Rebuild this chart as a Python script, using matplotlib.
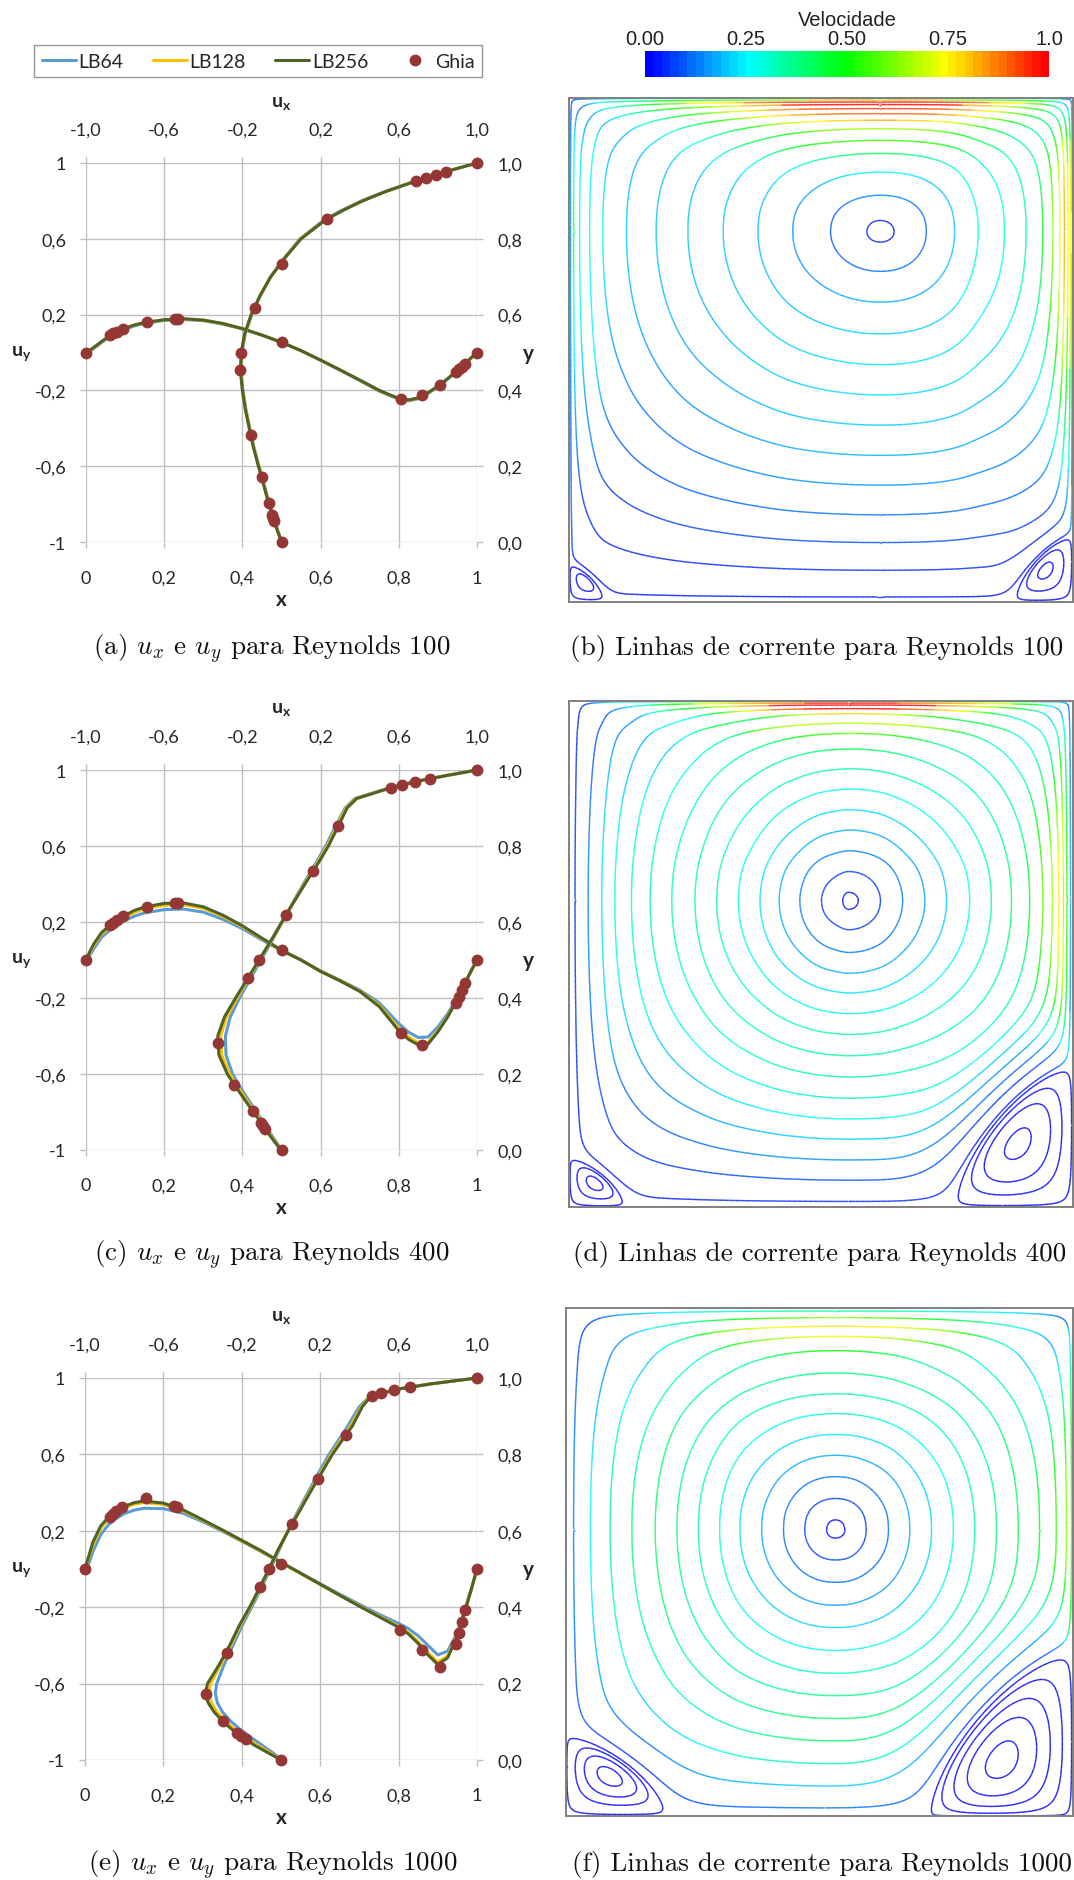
import numpy as np
import matplotlib
matplotlib.use("Agg")
import matplotlib.pyplot as plt
from matplotlib.collections import LineCollection
from matplotlib.colors import LinearSegmentedColormap, Normalize
from matplotlib.cm import ScalarMappable

W, H, DPI = 1074, 1881, 100

plt.rcParams['font.family'] = ['Lato', 'DejaVu Sans']
plt.rcParams['mathtext.fontset'] = 'custom'
plt.rcParams['mathtext.bf'] = 'Lato:bold'
plt.rcParams['mathtext.rm'] = 'Lato'
plt.rcParams['mathtext.it'] = 'Lato:italic'

# ---------------- velocity profiles (left column) ----------------
X_GRID = [0, 0.01, 0.02, 0.04, 0.06, 0.08, 0.10, 0.125, 0.15, 0.20, 0.25, 0.30, 0.35, 0.40, 0.45,
          0.50, 0.55, 0.60, 0.65, 0.70, 0.75, 0.80, 0.825, 0.85, 0.875, 0.90, 0.925, 0.95, 0.97, 0.985, 1.0]
Y_GRID = [0, 0.01, 0.02, 0.04, 0.06, 0.08, 0.10, 0.125, 0.15, 0.175, 0.20, 0.25, 0.30, 0.35, 0.40,
          0.45, 0.50, 0.55, 0.60, 0.65, 0.70, 0.75, 0.80, 0.85, 0.875, 0.90, 0.925, 0.95, 0.97, 0.985, 1.0]

# u_y(x) on the horizontal centre line
UY100_LB64 = [0, 0.008, 0.021, 0.053, 0.083, 0.105, 0.123, 0.141, 0.154, 0.169, 0.174, 0.168, 0.150, 0.124, 0.091,
              0.053, 0.009, -0.041, -0.094, -0.148, -0.204, -0.247, -0.255, -0.244, -0.216, -0.181, -0.140, -0.095, -0.058, -0.030, 0]
UY100_LB128 = [0, 0.011, 0.025, 0.057, 0.087, 0.109, 0.127, 0.145, 0.157, 0.172, 0.177, 0.170, 0.152, 0.125, 0.092,
               0.054, 0.009, -0.041, -0.093, -0.146, -0.201, -0.244, -0.252, -0.241, -0.213, -0.179, -0.138, -0.094, -0.057, -0.029, 0]
UY100_LB256 = [0, 0.012, 0.027, 0.058, 0.088, 0.110, 0.128, 0.146, 0.158, 0.173, 0.178, 0.171, 0.153, 0.126, 0.092,
               0.054, 0.010, -0.040, -0.092, -0.145, -0.200, -0.243, -0.250, -0.240, -0.212, -0.178, -0.138, -0.094, -0.057, -0.028, 0]

UY400_LB64 = [0, 0.025, 0.060, 0.120, 0.155, 0.185, 0.208, 0.232, 0.248, 0.265, 0.268, 0.252, 0.214, 0.165, 0.106,
              0.048, 0.000, -0.058, -0.106, -0.158, -0.225, -0.335, -0.380, -0.408, -0.405, -0.352, -0.283, -0.195, -0.115, -0.055, 0]
UY400_LB128 = [0, 0.038, 0.077, 0.137, 0.172, 0.202, 0.227, 0.252, 0.270, 0.288, 0.291, 0.272, 0.230, 0.176, 0.113,
               0.051, 0.000, -0.060, -0.109, -0.163, -0.238, -0.360, -0.405, -0.436, -0.433, -0.372, -0.296, -0.203, -0.119, -0.057, 0]
UY400_LB256 = [0, 0.045, 0.085, 0.145, 0.180, 0.211, 0.236, 0.262, 0.279, 0.298, 0.300, 0.280, 0.236, 0.180, 0.115,
               0.052, 0.000, -0.060, -0.110, -0.165, -0.245, -0.372, -0.418, -0.447, -0.442, -0.378, -0.300, -0.205, -0.120, -0.058, 0]

UY1000_LB64 = [0, 0.030, 0.090, 0.180, 0.232, 0.265, 0.290, 0.308, 0.318, 0.316, 0.292, 0.248, 0.198, 0.145, 0.090,
               0.033, -0.022, -0.077, -0.132, -0.185, -0.237, -0.285, -0.312, -0.350, -0.400, -0.450, -0.430, -0.332, -0.206, -0.105, 0]
UY1000_LB128 = [0, 0.060, 0.125, 0.213, 0.262, 0.295, 0.320, 0.339, 0.348, 0.338, 0.305, 0.255, 0.202, 0.147, 0.092,
                0.033, -0.024, -0.081, -0.138, -0.193, -0.247, -0.300, -0.333, -0.380, -0.437, -0.488, -0.455, -0.345, -0.212, -0.108, 0]
UY1000_LB256 = [0, 0.070, 0.140, 0.225, 0.272, 0.303, 0.328, 0.347, 0.356, 0.345, 0.310, 0.258, 0.205, 0.150, 0.095,
                0.035, -0.022, -0.080, -0.138, -0.195, -0.250, -0.305, -0.340, -0.390, -0.450, -0.500, -0.465, -0.350, -0.215, -0.110, 0]

# u_x(y) on the vertical centre line
UX100_LB64 = [0, -0.006, -0.012, -0.025, -0.037, -0.049, -0.061, -0.075, -0.088, -0.101, -0.115, -0.141, -0.162, -0.182, -0.197,
              -0.207, -0.203, -0.185, -0.152, -0.108, -0.055, 0.015, 0.095, 0.218, 0.307, 0.408, 0.530, 0.670, 0.792, 0.894, 1.0]
UX100_LB128 = [0, -0.007, -0.014, -0.027, -0.039, -0.051, -0.063, -0.077, -0.090, -0.103, -0.117, -0.143, -0.164, -0.184, -0.199,
               -0.209, -0.205, -0.187, -0.154, -0.109, -0.055, 0.017, 0.098, 0.222, 0.312, 0.412, 0.533, 0.673, 0.794, 0.895, 1.0]
UX100_LB256 = [0, -0.007, -0.014, -0.028, -0.040, -0.052, -0.064, -0.078, -0.091, -0.104, -0.118, -0.144, -0.165, -0.185, -0.200,
               -0.210, -0.206, -0.188, -0.155, -0.110, -0.055, 0.018, 0.100, 0.225, 0.315, 0.415, 0.535, 0.675, 0.795, 0.895, 1.0]

UX400_LB64 = [0, -0.012, -0.025, -0.052, -0.077, -0.102, -0.128, -0.160, -0.192, -0.222, -0.250, -0.284, -0.287, -0.262, -0.215,
              -0.160, -0.105, -0.050, 0.004, 0.057, 0.112, 0.170, 0.226, 0.275, 0.300, 0.325, 0.375, 0.532, 0.685, 0.838, 1.0]
UX400_LB128 = [0, -0.016, -0.030, -0.058, -0.084, -0.110, -0.137, -0.170, -0.203, -0.235, -0.265, -0.306, -0.311, -0.281, -0.227,
               -0.170, -0.112, -0.053, 0.003, 0.059, 0.117, 0.177, 0.234, 0.282, 0.306, 0.330, 0.380, 0.537, 0.688, 0.839, 1.0]
UX400_LB256 = [0, -0.018, -0.033, -0.062, -0.089, -0.116, -0.144, -0.178, -0.212, -0.246, -0.277, -0.320, -0.326, -0.292, -0.235,
               -0.175, -0.115, -0.055, 0.002, 0.060, 0.120, 0.182, 0.240, 0.288, 0.312, 0.335, 0.385, 0.540, 0.690, 0.840, 1.0]

UX1000_LB64 = [0, -0.020, -0.045, -0.100, -0.155, -0.208, -0.253, -0.298, -0.325, -0.335, -0.328, -0.290, -0.245, -0.200, -0.150,
               -0.100, -0.055, -0.010, 0.035, 0.085, 0.137, 0.190, 0.245, 0.310, 0.342, 0.370, 0.400, 0.450, 0.580, 0.770, 1.0]
UX1000_LB128 = [0, -0.030, -0.060, -0.125, -0.180, -0.235, -0.280, -0.325, -0.357, -0.368, -0.360, -0.307, -0.256, -0.210, -0.157,
                -0.107, -0.060, -0.014, 0.036, 0.090, 0.144, 0.200, 0.256, 0.322, 0.356, 0.383, 0.410, 0.452, 0.583, 0.770, 1.0]
UX1000_LB256 = [0, -0.035, -0.070, -0.140, -0.195, -0.250, -0.295, -0.340, -0.372, -0.385, -0.375, -0.315, -0.262, -0.215, -0.160,
                -0.110, -0.062, -0.015, 0.037, 0.093, 0.148, 0.205, 0.262, 0.330, 0.365, 0.390, 0.415, 0.455, 0.585, 0.770, 1.0]

# Ghia et al. reference points
GHIA_Y = [1.0, 0.9766, 0.9688, 0.9609, 0.9531, 0.8516, 0.7344, 0.6172, 0.5, 0.4531, 0.2813, 0.1719, 0.1016, 0.0703, 0.0625, 0.0547, 0.0]
GHIA_U100 = [1.0, 0.84123, 0.78871, 0.73722, 0.68717, 0.23151, 0.00332, -0.13641, -0.20581, -0.21090, -0.15662, -0.10150, -0.06434, -0.04775, -0.04192, -0.03717, 0.0]
GHIA_U400 = [1.0, 0.75837, 0.68439, 0.61756, 0.55892, 0.29093, 0.16256, 0.02135, -0.11477, -0.17119, -0.32726, -0.24299, -0.14612, -0.10338, -0.09266, -0.08186, 0.0]
GHIA_U1000 = [1.0, 0.65928, 0.57492, 0.51117, 0.46604, 0.33304, 0.18719, 0.05702, -0.06080, -0.10648, -0.27805, -0.38289, -0.29730, -0.22220, -0.20196, -0.18109, 0.0]
GHIA_X = [1.0, 0.9688, 0.9609, 0.9531, 0.9453, 0.9063, 0.8594, 0.8047, 0.5, 0.2344, 0.2266, 0.1563, 0.0938, 0.0781, 0.0703, 0.0625, 0.0]
GHIA_V100 = [0.0, -0.05906, -0.07391, -0.08864, -0.10313, -0.16914, -0.22445, -0.24533, 0.05454, 0.17527, 0.17507, 0.16077, 0.12317, 0.10890, 0.10091, 0.09233, 0.0]
GHIA_V400 = [0.0, -0.12146, -0.15663, -0.19254, -0.22847, np.nan, -0.44993, -0.38598, 0.05186, 0.30174, 0.30203, 0.28124, 0.22965, 0.20920, 0.19713, 0.18360, 0.0]
GHIA_V1000 = [0.0, -0.21388, -0.27669, -0.33714, -0.39188, -0.51550, -0.42665, -0.31966, 0.02526, 0.32235, 0.33075, 0.37095, 0.32627, 0.30353, 0.29012, 0.27485, 0.0]

SERIES = ['LB64', 'LB128', 'LB256', 'Ghia']
X_TICKS = [0, 0.2, 0.4, 0.6, 0.8, 1.0]
X_LABELS = ['0', '0,2', '0,4', '0,6', '0,8', '1']
UY_TICKS = [-1, -0.6, -0.2, 0.2, 0.6, 1]
UY_LABELS = ['-1', '-0,6', '-0,2', '0,2', '0,6', '1']
UX_TICKS = [-1, -0.6, -0.2, 0.2, 0.6, 1]
UX_LABELS = ['-1,0', '-0,6', '-0,2', '0,2', '0,6', '1,0']
Y_TICKS = [0, 0.2, 0.4, 0.6, 0.8, 1.0]
Y_LABELS = ['0,0', '0,2', '0,4', '0,6', '0,8', '1,0']

# ---------------- streamline panels (right column) ----------------
# vortex centre and positions where the drawn streamlines cross the centre lines
# (listed from the centre outwards)
CENTER_100 = (0.6172, 0.7344)
BELOW_100 = [0.714, 0.656, 0.595, 0.532, 0.471, 0.411, 0.351, 0.291, 0.232, 0.173, 0.118, 0.063, 0.010]
ABOVE_100 = [0.757, 0.807, 0.853, 0.890, 0.916, 0.939, 0.956, 0.969, 0.979, 0.987, 0.992, 0.996, 0.999]
LEFT_100 = [0.591, 0.519, 0.444, 0.375, 0.306, 0.236, 0.173, 0.114, 0.067, 0.041, 0.021, 0.009, 0.003]
RIGHT_100 = [0.645, 0.709, 0.765, 0.812, 0.864, 0.907, 0.940, 0.960, 0.974, 0.983, 0.990, 0.995, 0.998]
# corner eddies: corner, extent along bottom, extent along wall, eddy centre, line fractions
EDDIES_100 = [('BL', 0.071, 0.073, (0.0313, 0.0391), [0.05, 0.6]),
              ('BR', 0.116, 0.129, (0.9453, 0.0625), [0.03, 0.4, 0.88])]

CENTER_400 = (0.5547, 0.6055)
BELOW_400 = [0.588, 0.548, 0.503, 0.462, 0.423, 0.382, 0.341, 0.299, 0.257, 0.215, 0.174, 0.134, 0.093, 0.053, 0.011]
ABOVE_400 = [0.622, 0.663, 0.704, 0.745, 0.785, 0.826, 0.866, 0.905, 0.936, 0.956, 0.975, 0.985, 0.992, 0.996, 0.999]
LEFT_400 = [0.543, 0.501, 0.458, 0.417, 0.379, 0.336, 0.293, 0.250, 0.204, 0.161, 0.124, 0.091, 0.065, 0.038, 0.012]
RIGHT_400 = [0.574, 0.618, 0.662, 0.706, 0.749, 0.795, 0.838, 0.878, 0.914, 0.940, 0.959, 0.972, 0.981, 0.988, 0.995]
EDDIES_400 = [('BL', 0.111, 0.096, (0.0508, 0.0469), [0.03, 0.4, 0.85]),
              ('BR', 0.235, 0.276, (0.8906, 0.1250), [0.02, 0.25, 0.55, 0.92])]

CENTER_1000 = (0.5313, 0.5625)
BELOW_1000 = [0.547, 0.504, 0.460, 0.415, 0.371, 0.326, 0.281, 0.237, 0.192, 0.148, 0.103, 0.059, 0.016]
ABOVE_1000 = [0.583, 0.625, 0.668, 0.710, 0.751, 0.792, 0.831, 0.872, 0.916, 0.944, 0.964, 0.981, 0.994]
LEFT_1000 = [0.514, 0.471, 0.429, 0.386, 0.343, 0.303, 0.261, 0.219, 0.176, 0.130, 0.087, 0.048, 0.015]
RIGHT_1000 = [0.550, 0.592, 0.636, 0.678, 0.721, 0.764, 0.806, 0.849, 0.892, 0.934, 0.967, 0.987, 0.997]
EDDIES_1000 = [('BL', 0.199, 0.157, (0.0859, 0.0781), [0.02, 0.3, 0.6, 0.9]),
               ('BR', 0.284, 0.32, (0.8594, 0.1094), [0.02, 0.2, 0.45, 0.7, 0.93])]

CBAR_TICKS = [0, 0.25, 0.5, 0.75, 1.0]
CBAR_LABELS = ['0.00', '0.25', '0.50', '0.75', '1.0']

COLORS = ['#5B9BD5', '#FFC000', '#4F6228']
GHIA_COLOR = '#953735'
GRID_COLOR = '#bfbfbf'
TEXT_COLOR = '#262626'
RAINBOW = LinearSegmentedColormap.from_list('rainbow', ['#0000ff', '#00ffff', '#00ff00', '#ffff00', '#ff0000'])
EDDY_W = 0.8
EDDY_Q = 1.5
SPEED_GAIN = 1.1


def rect(l, t, r, b):
    return [l / W, 1 - b / H, (r - l) / W, (b - t) / H]


def fx(px):
    return px / W


def fy(py):
    return 1 - py / H


fig = plt.figure(figsize=(W / DPI, H / DPI), dpi=DPI)


def velocity_panel(box, uy_curves, ux_curves, ghia_v, ghia_u):
    l, t, r, b = box
    ax = fig.add_axes(rect(*box))
    ax.set_xlim(0, 1)
    ax.set_ylim(-1, 1)
    ax2 = fig.add_axes(rect(*box), frameon=False)
    ax2.set_xlim(-1, 1)
    ax2.set_ylim(0, 1)
    for a in (ax, ax2):
        for sp in a.spines.values():
            sp.set_visible(False)
    ax.set_xticks(X_TICKS, X_LABELS)
    ax.set_yticks(UY_TICKS, UY_LABELS)
    ax.grid(True, color=GRID_COLOR, lw=1.0)
    ax.set_axisbelow(True)
    ax2.xaxis.tick_top()
    ax2.yaxis.tick_right()
    ax2.set_xticks(UX_TICKS, UX_LABELS)
    ax2.set_yticks(Y_TICKS, Y_LABELS)
    for a in (ax, ax2):
        a.tick_params(direction='out', length=4.3, width=1, color=GRID_COLOR,
                      labelsize=13, labelcolor=TEXT_COLOR)
    ax.tick_params(axis='x', pad=15.5)
    ax.tick_params(axis='y', pad=10)
    ax2.tick_params(axis='x', pad=14)
    ax2.tick_params(axis='y', pad=10.5)

    handles = []
    for vals, c in zip(uy_curves, COLORS):
        ax2.plot(X_GRID, vals, color=c, lw=2.2, transform=ax.transData, clip_on=False,
                 solid_capstyle='round')
    for vals, c in zip(ux_curves, COLORS):
        h, = ax2.plot(vals, Y_GRID, color=c, lw=2.2, clip_on=False, solid_capstyle='round')
        handles.append(h)
    ax2.plot(GHIA_X, ghia_v, 'o', color=GHIA_COLOR, ms=7.5, transform=ax.transData, clip_on=False)
    g, = ax2.plot(ghia_u, GHIA_Y, 'o', color=GHIA_COLOR, ms=7.5, clip_on=False)
    handles.append(g)

    fig.text(fx((l + r) / 2), fy(t - 61), r'$\mathbf{u_x}$', ha='center', va='center',
             fontsize=14, color=TEXT_COLOR, math_fontfamily='custom')
    fig.text(fx((l + r) / 2), fy(b + 57), 'x', ha='center', va='center',
             fontsize=15, fontweight='bold', color=TEXT_COLOR)
    fig.text(fx(21), fy((t + b) / 2), r'$\mathbf{u_y}$', ha='center', va='center',
             fontsize=14, color=TEXT_COLOR, math_fontfamily='custom')
    fig.text(fx(r + 51), fy((t + b) / 2), 'y', ha='center', va='center',
             fontsize=15, fontweight='bold', color=TEXT_COLOR)
    return handles


def pchip(xk, yk, x):
    xk = np.asarray(xk, float)
    yk = np.asarray(yk, float)
    h = np.diff(xk)
    d = np.diff(yk) / h
    m = np.empty_like(yk)
    m[0], m[-1] = d[0], d[-1]
    for i in range(1, len(xk) - 1):
        if d[i - 1] * d[i] <= 0:
            m[i] = 0.0
        else:
            w1 = 2 * h[i] + h[i - 1]
            w2 = h[i] + 2 * h[i - 1]
            m[i] = (w1 + w2) / (w1 / d[i - 1] + w2 / d[i])
    i = np.clip(np.searchsorted(xk, x) - 1, 0, len(h) - 1)
    t = (x - xk[i]) / h[i]
    return ((2 * t**3 - 3 * t**2 + 1) * yk[i] + (t**3 - 2 * t**2 + t) * h[i] * m[i]
            + (-2 * t**3 + 3 * t**2) * yk[i + 1] + (t**3 - t**2) * h[i] * m[i + 1])


def profile(center, lo, hi, s, grid):
    # s: 0 at the vortex centre, 1 on the walls, line k sits at s[k]; returns 1 - s^2
    lo_x = np.r_[0.0, np.asarray(lo)[::-1], center]
    lo_s = np.r_[1.0, s[::-1], 0.0]
    hi_x = np.r_[center, hi, 1.0]
    hi_s = np.r_[0.0, s, 1.0]
    sg = np.where(grid <= center, pchip(lo_x, lo_s, grid), pchip(hi_x, hi_s, grid))
    return 1 - np.clip(sg, 0, 1) ** 2


def stream_panel(box, center, below, above, left, right, eddies, ux_profile):
    ax = fig.add_axes(rect(*box))
    ax.set_xlim(0, 1)
    ax.set_ylim(0, 1)
    ax.set_xticks([])
    ax.set_yticks([])
    for sp in ax.spines.values():
        sp.set_color('#808080')
        sp.set_linewidth(1.4)

    # geometry: line k sits at its read positions, s grows linearly with the seed distance
    below = np.asarray(below)
    s = (center[1] - below) / center[1]
    vals = 1 - s**2

    # physical stream function of each line, integrated from the LB256 u_x profile
    yf = np.linspace(0, 1, 2001)
    uf = np.interp(yf, Y_GRID, ux_profile)
    cum = np.r_[0.0, np.cumsum(0.5 * (uf[1:] + uf[:-1]) * np.diff(yf))]
    p_line = np.r_[cum.min(), np.interp(below, yf, cum), 0.0]
    v_line = np.r_[1.0, vals, 0.0]
    scale = np.abs(p_line[:-2] - p_line[2:]) / np.abs(v_line[:-2] - v_line[2:])

    n = 601
    g = np.linspace(0, 1, n)
    xi = profile(center[0], left, right, s, g)
    eta = profile(center[1], below, above, s, g)
    psi_main = -np.outer(eta, xi)
    gy, gx = np.gradient(psi_main, g, g)
    gmag = SPEED_GAIN * np.hypot(gx, gy)

    xg, yg = np.meshgrid(g, g)
    psi = psi_main.copy()
    eddy_fields = []
    for corner, lx, ly, (ex, ey), fr in eddies:
        dx = xg if corner == 'BL' else 1 - xg
        X = dx / lx
        Y = yg / ly
        R = (X**EDDY_Q + Y**EDDY_Q) ** (1 / EDDY_Q)
        t = np.clip((R - 1) / EDDY_W, 0, 1)
        psi = psi * (1 - (1 - t) ** 3)
        x0 = (ex if corner == 'BL' else 1 - ex) / lx
        y0 = ey / ly
        s0 = x0**EDDY_Q + y0**EDDY_Q
        tot = EDDY_Q * s0 / (1 - s0)
        al, be = tot * x0**EDDY_Q / s0, tot * y0**EDDY_Q / s0
        phi = np.where(R < 1, X**al * Y**be * (1 - R**EDDY_Q), 0.0)
        eddy_fields.append((np.ma.masked_where(R > 1.02, phi), fr))

    segs, speeds = [], []

    def collect(cs, factors):
        for lev_segs, f in zip(cs.allsegs, factors):
            for sg in lev_segs:
                if len(sg) < 2:
                    continue
                mid = 0.5 * (sg[1:] + sg[:-1])
                ix = np.clip(np.rint(mid[:, 0] * (n - 1)).astype(int), 0, n - 1)
                iy = np.clip(np.rint(mid[:, 1] * (n - 1)).astype(int), 0, n - 1)
                segs.extend(np.stack([sg[:-1], sg[1:]], axis=1))
                speeds.extend(f * gmag[iy, ix])
        cs.remove()

    collect(ax.contour(g, g, psi, levels=-vals), scale)
    for phi, fr in eddy_fields:
        collect(ax.contour(g, g, phi, levels=np.asarray(fr) * phi.max()), [0.0] * len(fr))

    lc = LineCollection(segs, cmap=RAINBOW, norm=Normalize(0, 1), linewidths=1.0)
    lc.set_array(np.clip(np.asarray(speeds), 0, 1))
    ax.add_collection(lc)


def caption(cx, cy, text):
    fig.text(fx(cx), fy(cy), text, ha='center', va='center', fontsize=19.5,
             fontfamily='cmr10', math_fontfamily='cm', color='#111111')


handles = velocity_panel((86, 164, 477, 543), [UY100_LB64, UY100_LB128, UY100_LB256],
                         [UX100_LB64, UX100_LB128, UX100_LB256], GHIA_V100, GHIA_U100)
velocity_panel((86, 771, 477, 1151), [UY400_LB64, UY400_LB128, UY400_LB256],
               [UX400_LB64, UX400_LB128, UX400_LB256], GHIA_V400, GHIA_U400)
velocity_panel((85, 1379, 477, 1761), [UY1000_LB64, UY1000_LB128, UY1000_LB256],
               [UX1000_LB64, UX1000_LB128, UX1000_LB256], GHIA_V1000, GHIA_U1000)

stream_panel((569, 99, 1073, 603), CENTER_100, BELOW_100, ABOVE_100, LEFT_100, RIGHT_100,
             EDDIES_100, UX100_LB256)
stream_panel((569, 702, 1073, 1208), CENTER_400, BELOW_400, ABOVE_400, LEFT_400, RIGHT_400,
             EDDIES_400, UX400_LB256)
stream_panel((566, 1309, 1073, 1817), CENTER_1000, BELOW_1000, ABOVE_1000, LEFT_1000, RIGHT_1000,
             EDDIES_1000, UX1000_LB256)

leg = fig.legend(handles, SERIES, loc='center', bbox_to_anchor=(fx(258), fy(62)), ncol=4,
                 frameon=True, fancybox=False, edgecolor='#7f7f7f', fontsize=14,
                 handlelength=1.75, handletextpad=0.15, columnspacing=1.5, borderpad=0.4)
leg.get_frame().set_linewidth(1.0)
for t in leg.get_texts():
    t.set_color(TEXT_COLOR)

# colour bar
cax = fig.add_axes(rect(645, 52, 1049, 78))
bands = LinearSegmentedColormap.from_list('bands', RAINBOW(np.linspace(0, 1, 48)), N=48)
cb = fig.colorbar(ScalarMappable(Normalize(0, 1), bands), cax=cax, orientation='horizontal')
cb.outline.set_visible(False)
cax.xaxis.set_ticks_position('top')
cb.set_ticks(CBAR_TICKS, labels=CBAR_LABELS)
cax.tick_params(length=0, pad=2, labelsize=14.5, labelcolor='#222222')
for t in cax.get_xticklabels():
    t.set_fontfamily('Liberation Sans')
fig.text(fx(847), fy(21), 'Velocidade', ha='center', va='center', fontsize=14.5,
         fontfamily='Liberation Sans', color='#222222')

caption(272, 649, r'(a) $u_x$ e $u_y$ para Reynolds 100')
caption(817, 649, '(b) Linhas de corrente para Reynolds 100')
caption(272, 1255, r'(c) $u_x$ e $u_y$ para Reynolds 400')
caption(820, 1255, '(d) Linhas de corrente para Reynolds 400')
caption(273, 1865, r'(e) $u_x$ e $u_y$ para Reynolds 1000')
caption(822, 1865, '(f) Linhas de corrente para Reynolds 1000')

fig.savefig('out.png', dpi=DPI)
